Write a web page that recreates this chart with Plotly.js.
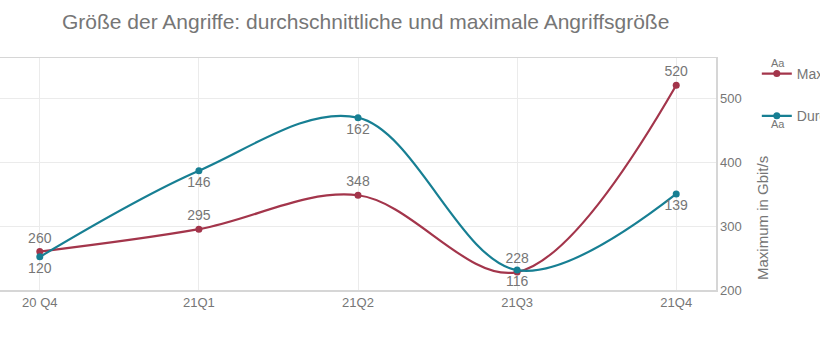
<!DOCTYPE html>
<html>
<head>
<meta charset="utf-8">
<script src="https://cdn.plot.ly/plotly-3.0.1.min.js"></script>
<style>html,body{margin:0;padding:0;background:#fff;}#chart{width:820px;height:360px;}</style>
</head>
<body>
<div id="chart"></div>
<script>
var categories = ["20 Q4", "21Q1", "21Q2", "21Q3", "21Q4"];
var maximumValues = [260, 295, 348, 228, 520];
var averageValues = [120, 146, 162, 116, 139];
var seriesNames = ["Maximum", "Durchschnitt"];
var yAxisTitle = "Maximum in Gbit/s";

var grey = "#767676";
var font = "Liberation Sans, Arial, sans-serif";

var traces = [
  {
    x: categories, y: maximumValues, name: seriesNames[0], legendgroup: "a",
    type: "scatter", mode: "lines+markers+text",
    line: {shape: "spline", color: "#a3354b", width: 2.2},
    marker: {size: 7, color: "#a3354b"},
    text: maximumValues.map(String), textposition: "top center",
    textfont: {size: 14, color: grey, family: font},
    yaxis: "y", cliponaxis: false
  },
  {
    x: categories, y: averageValues, name: seriesNames[1], legendgroup: "b",
    type: "scatter", mode: "lines+markers+text",
    line: {shape: "spline", color: "#177f93", width: 2.2},
    marker: {size: 7, color: "#177f93"},
    text: averageValues.map(String), textposition: "bottom center",
    textfont: {size: 14, color: grey, family: font},
    yaxis: "y2", cliponaxis: false
  }
];

var layout = {
  width: 820, height: 360,
  margin: {l: 0, r: 104, t: 58, b: 70, autoexpand: false},
  paper_bgcolor: "#fff", plot_bgcolor: "#fff",
  font: {family: font, color: grey, size: 13},
  title: {text: "Größe der Angriffe: durchschnittliche und maximale Angriffsgröße",
    font: {size: 21, color: grey, family: font},
    xref: "container", x: 0.0756, xanchor: "left",
    yref: "container", y: 0.939, yanchor: "middle"},
  xaxis: {
    type: "category", range: [-0.25, 4.25],
    showgrid: true, gridcolor: "#ebebeb",
    showline: true, linecolor: "#d6d6d6", linewidth: 1.5, mirror: true,
    ticks: "", tickfont: {size: 13, color: grey}
  },
  yaxis: {
    side: "right", range: [200, 562.5], tickvals: [200, 300, 400, 500],
    showgrid: true, gridcolor: "#ebebeb",
    showline: true, linecolor: "#d6d6d6", linewidth: 1.5, mirror: true,
    zeroline: false, ticks: "", tickfont: {size: 13, color: grey}
  },
  yaxis2: {
    overlaying: "y", side: "left", range: [110, 180],
    visible: false, showgrid: false, zeroline: false
  },
  legend: {x: 1.057, xanchor: "left", y: 1.0, yanchor: "top",
    font: {size: 14, color: grey}, traceorder: "grouped", tracegroupgap: 21},
  annotations: [
    {text: yAxisTitle, textangle: -90, xref: "paper", yref: "paper",
      x: 762 / 716, y: 1 - (218 - 58) / 232, xanchor: "center", yanchor: "middle",
      showarrow: false, font: {size: 15, color: grey}},
    {text: "Aa", xref: "paper", yref: "paper", x: 1.0865, y: 1 - (63 - 58) / 232,
      xanchor: "center", yanchor: "middle", showarrow: false, font: {size: 11, color: grey}},
    {text: "Aa", xref: "paper", yref: "paper", x: 1.0865, y: 1 - (124 - 58) / 232,
      xanchor: "center", yanchor: "middle", showarrow: false, font: {size: 11, color: grey}}
  ],
  showlegend: true
};

Plotly.newPlot("chart", traces, layout, {displayModeBar: false, staticPlot: true});
</script>
</body>
</html>
